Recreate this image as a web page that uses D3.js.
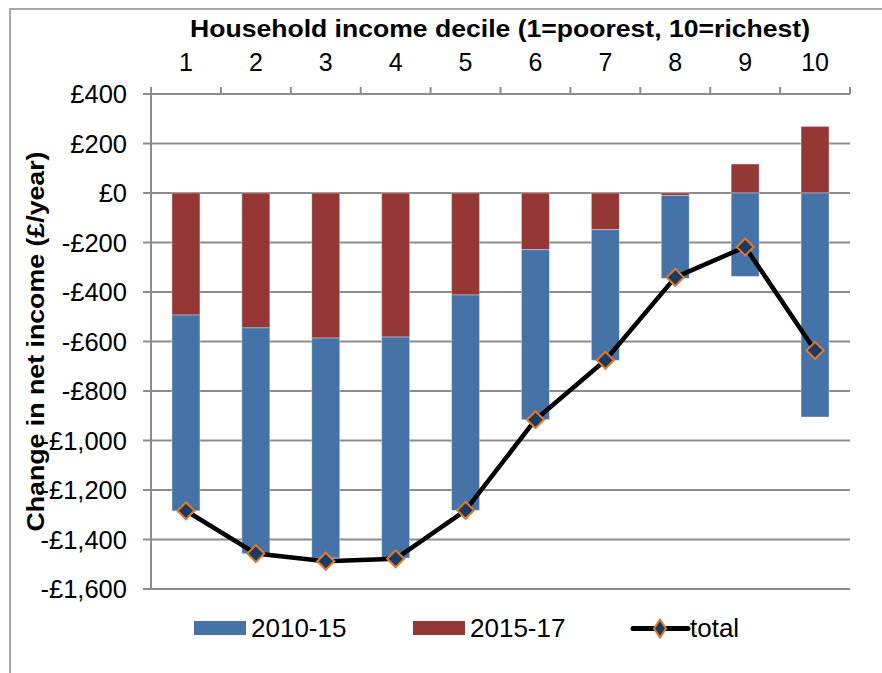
<!DOCTYPE html>
<html>
<head>
<meta charset="utf-8">
<script src="https://cdn.jsdelivr.net/npm/d3@7"></script>
<style>
  html, body { margin: 0; padding: 0; background: #fff; }
  svg { display: block; font-family: "Liberation Sans", Arial, sans-serif; }
</style>
</head>
<body>
<svg id="chart" width="882" height="673"></svg>
<script>
// deciles and the two stacked components (£/year), plus the line total
const deciles = ['1', '2', '3', '4', '5', '6', '7', '8', '9', '10'];
const change2010 = [-791, -912, -889, -893, -870, -687, -528, -335, -337, -905];
const change2015 = [-493, -545, -586, -582, -412, -229, -148, -10, 117, 269];
const total = [-1284, -1457, -1488, -1478, -1282, -916, -676, -341, -218, -636];
const yTicks = [400, 200, 0, -200, -400, -600, -800, -1000, -1200, -1400, -1600];

(function () {
  const BLUE = '#4573a7', RED = '#953735', GRID = '#8c8c8c';
  const NAVY = '#1d3a63', ORANGE = '#e07b2a';

  const svg = d3.select('#chart');
  const pLeft = 151, pRight = 850, pTop = 94, pBottom = 589;

  const x = d3.scaleBand().domain(deciles).range([pLeft, pRight])
    .paddingInner(0.6).paddingOuter(0.3);
  const xEdge = d3.scaleLinear().domain([0, deciles.length]).range([pLeft, pRight]);
  const y = d3.scaleLinear().domain([-1600, 400]).range([pBottom, pTop]);

  // outer frame (runs off the picture right and bottom)
  svg.append('rect').attr('x', 10).attr('y', 9).attr('width', 900).attr('height', 700)
    .attr('fill', 'none').attr('stroke', GRID).attr('stroke-width', 1.5);

  // gridlines
  svg.append('g').selectAll('line').data(yTicks).join('line')
    .attr('x1', pLeft - 8).attr('x2', pRight)
    .attr('y1', d => y(d)).attr('y2', d => y(d))
    .attr('stroke', GRID).attr('stroke-width', 2);

  // left axis line
  svg.append('line').attr('x1', pLeft).attr('x2', pLeft).attr('y1', pTop).attr('y2', pBottom)
    .attr('stroke', GRID).attr('stroke-width', 2);

  // top axis tick marks at category edges
  svg.append('g').selectAll('line').data(d3.range(deciles.length + 1)).join('line')
    .attr('x1', d => xEdge(d)).attr('x2', d => xEdge(d))
    .attr('y1', pTop).attr('y2', pTop - 7)
    .attr('stroke', GRID).attr('stroke-width', 2);

  // y tick labels
  const fmt = d => (d < 0 ? '-£' : '£') + d3.format(',')(Math.abs(d));
  svg.append('g').selectAll('text').data(yTicks).join('text')
    .attr('x', 127).attr('y', d => y(d)).attr('dy', '0.36em')
    .attr('text-anchor', 'end').attr('font-size', 25.5).attr('fill', '#000')
    .text(fmt);

  // category labels on top
  svg.append('g').selectAll('text').data(deciles).join('text')
    .attr('x', d => x(d) + x.bandwidth() / 2).attr('y', 71)
    .attr('text-anchor', 'middle').attr('font-size', 25).attr('fill', '#000')
    .text(d => d);

  // titles
  svg.append('text').attr('x', 500).attr('y', 37).attr('text-anchor', 'middle')
    .attr('font-size', 24.5).attr('font-weight', 'bold')
    .attr('textLength', 620).attr('lengthAdjust', 'spacingAndGlyphs')
    .text('Household income decile (1=poorest, 10=richest)');
  svg.append('text').attr('transform', `translate(44,${(pTop + pBottom) / 2}) rotate(-90)`)
    .attr('text-anchor', 'middle').attr('font-size', 24.5).attr('font-weight', 'bold')
    .attr('textLength', 380).attr('lengthAdjust', 'spacingAndGlyphs')
    .text('Change in net income (£/year)');

  // stacked bars: 2015-17 sits next to zero, 2010-15 stacks beyond it
  const rows = deciles.map((d, i) => ({ decile: d, s1517: change2015[i], s1015: change2010[i] }));
  const stack = d3.stack().keys(['s1517', 's1015']).offset(d3.stackOffsetDiverging)(rows);
  const colors = { s1517: RED, s1015: BLUE };
  svg.append('g').selectAll('g').data(stack).join('g')
    .attr('fill', s => colors[s.key])
    .selectAll('rect').data(s => s).join('rect')
    .attr('x', d => x(d.data.decile)).attr('width', x.bandwidth())
    .attr('y', d => y(Math.max(d[0], d[1])))
    .attr('height', d => Math.abs(y(d[0]) - y(d[1])))
    .attr('stroke', 'rgba(255,255,255,0.35)').attr('stroke-width', 1);

  // total line with diamond markers
  const pts = deciles.map((d, i) => [x(d) + x.bandwidth() / 2, y(total[i])]);
  svg.append('path').datum(pts).attr('d', d3.line())
    .attr('fill', 'none').attr('stroke', '#000').attr('stroke-width', 4.5)
    .attr('stroke-linejoin', 'round');
  const diamond = 'M0,-8.5L8.5,0L0,8.5L-8.5,0Z';
  svg.append('g').selectAll('path').data(pts).join('path')
    .attr('transform', d => `translate(${d[0]},${d[1]})`).attr('d', diamond)
    .attr('fill', NAVY).attr('stroke', ORANGE).attr('stroke-width', 2);

  // legend
  const lg = svg.append('g').attr('font-size', 26);
  lg.append('rect').attr('x', 194).attr('y', 621).attr('width', 52).attr('height', 14).attr('fill', BLUE);
  lg.append('text').attr('x', 251).attr('y', 637).text('2010-15');
  lg.append('rect').attr('x', 413).attr('y', 621).attr('width', 52).attr('height', 14).attr('fill', RED);
  lg.append('text').attr('x', 470).attr('y', 637).text('2015-17');
  lg.append('line').attr('x1', 633).attr('x2', 688).attr('y1', 628.5).attr('y2', 628.5)
    .attr('stroke', '#000').attr('stroke-width', 5).attr('stroke-linecap', 'round');
  lg.append('path').attr('transform', 'translate(660,628.5)').attr('d', 'M0,-9L6,0L0,9L-6,0Z')
    .attr('fill', NAVY).attr('stroke', ORANGE).attr('stroke-width', 2);
  lg.append('text').attr('x', 690).attr('y', 637).text('total');
})();
</script>
</body>
</html>
